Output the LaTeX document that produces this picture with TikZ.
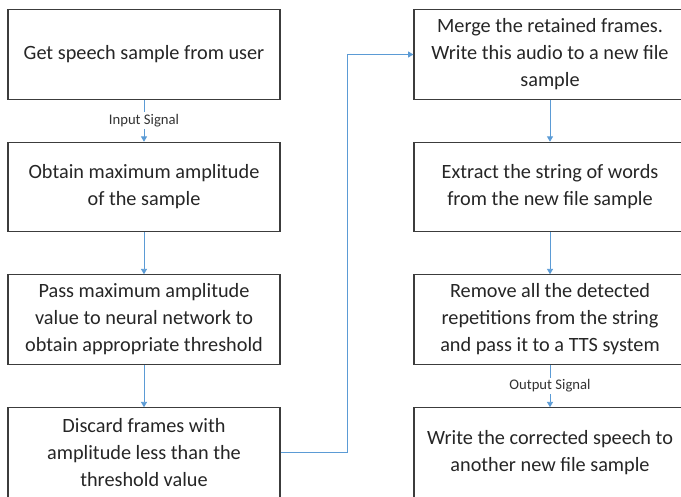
\documentclass[tikz,border=0pt]{standalone}
\usepackage{fontspec}
\setmainfont{Carlito}
\usetikzlibrary{arrows.meta}

\definecolor{flowblue}{RGB}{91,155,213}
\definecolor{boxgray}{RGB}{60,60,60}

\tikzset{
  stepbox/.style={draw=boxgray, line width=0.9pt, fill=white, minimum width=204pt, minimum height=67pt, inner sep=0pt, align=center, text=black!85, font=\fontsize{15.2}{20.3}\selectfont},
  flow/.style={draw=flowblue, line width=0.6pt, -{Triangle[width=4.5pt,length=4pt]}},
  siglabel/.style={fill=white, inner sep=1.5pt, text=black!80, font=\fontsize{11}{13}\selectfont}
}

\begin{document}
\begin{tikzpicture}[x=0.75pt,y=0.75pt,yscale=-1,xscale=1]
\useasboundingbox (0,0) rectangle (681,496);
\clip (0,0) rectangle (681,496);

% Left column
\node [stepbox] (get) at (144,54.5) {Get speech sample from user};
\node [stepbox] (maxamp) at (144,187) {Obtain maximum amplitude\\of the sample};
\node [stepbox] (pass) at (144,319.5) {Pass maximum amplitude\\value to neural network to\\obtain appropriate threshold};
\node [stepbox] (discard) at (144,452.5) {Discard frames with\\amplitude less than the\\threshold value};

% Right column
\node [stepbox] (merge) at (550,54.5) {Merge the retained frames.\\Write this audio to a new file\\sample};
\node [stepbox] (extract) at (550,187) {Extract the string of words\\from the new file sample};
\node [stepbox] (remove) at (550,319.5) {Remove all the detected\\repetitions from the string\\and pass it to a TTS system};
\node [stepbox] (write) at (550,452.5) {Write the corrected speech to\\another new file sample};

% Connectors
\draw [flow] (get) -- node [siglabel] (insig) {Input Signal} (maxamp);
\draw [flow] (maxamp) -- (pass);
\draw [flow] (pass) -- (discard);
\draw [flow] (discard.east) -- ++(67,0) |- (merge.west);
\draw [flow] (merge) -- (extract);
\draw [flow] (extract) -- (remove);
\draw [flow] (remove) -- node [siglabel] (outsig) {Output Signal} (write);

\end{tikzpicture}
\end{document}
